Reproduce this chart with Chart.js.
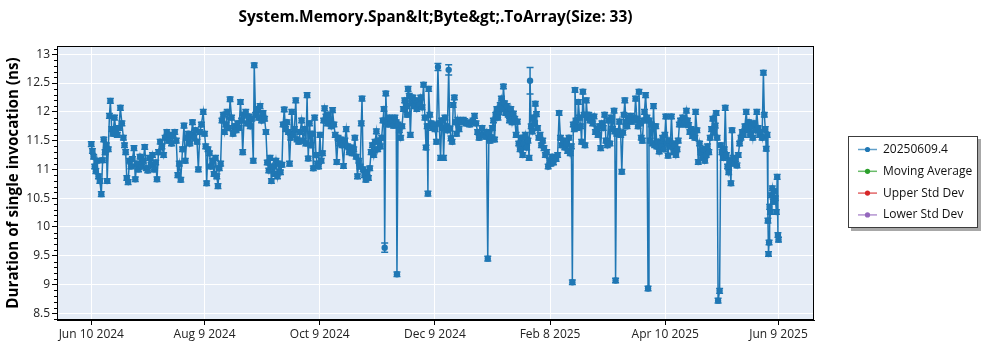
<!DOCTYPE html>
<html>
<head>
<meta charset="utf-8">
<script src="https://cdn.jsdelivr.net/npm/chart.js@4.4.1/dist/chart.umd.min.js"></script>
<style>
  html, body { margin: 0; padding: 0; background: #ffffff; }
  #wrap { width: 1000px; height: 350px; }
</style>
</head>
<body>
<div id="wrap"><canvas id="chart" width="1000" height="350"></canvas></div>
<script>
// ---- chart data ----------------------------------------------------------
const chartTitle = 'System.Memory.Span&lt;Byte&gt;.ToArray(Size: 33)';
const yAxisTitle = 'Duration of single invocation (ns)';

// x axis: days counted from Jun 10 2024
const tickDays = [0, 60, 121, 182, 243, 304, 364];
const tickLabels = ['Jun 10 2024', 'Aug 9 2024', 'Oct 9 2024', 'Dec 9 2024', 'Feb 8 2025', 'Apr 10 2025', 'Jun 9 2025'];
const yTicks = [8.5, 9, 9.5, 10, 10.5, 11, 11.5, 12, 12.5, 13];

const seriesNames = ['20250609.4', 'Moving Average', 'Upper Std Dev', 'Lower Std Dev'];
const seriesColors = ['#1f77b4', '#2ca02c', '#d62728', '#9467bd'];

const dayOffsets = [
  0, 0.6, 1.2, 1.8, 2.4, 3.0, 3.8, 4.5, 5.3, 6.0,
  6.6, 7.3, 8.0, 8.4, 9.0, 9.6, 10.1, 10.8, 11.5, 12.3,
  13.0, 13.8, 14.6, 15.4, 16.2, 17.0, 17.6, 18.2, 18.8, 19.5,
  20.2, 21.0, 21.8, 22.6, 23.3, 24.1, 25.0, 25.8, 26.6, 27.5,
  28.3, 29.1, 29.9, 30.8, 31.6, 32.4, 33.3, 34.1, 34.8, 35.6,
  36.5, 37.4, 38.3, 39.1, 40.0, 40.8, 41.6, 42.5, 43.3, 44.2,
  45.0, 45.8, 46.6, 47.4, 48.3, 49.1, 49.8, 50.6, 51.4, 52.2,
  53.0, 53.6, 54.4, 55.2, 56.0, 56.7, 57.5, 58.3, 59.3, 60.0,
  60.6, 61.1, 61.8, 62.6, 63.4, 64.2, 65.0, 65.8, 66.5, 67.1,
  67.8, 68.5, 69.2, 69.9, 70.6, 71.3, 72.0, 72.8, 73.5, 74.3,
  75.1, 75.9, 76.7, 77.5, 78.3, 79.0, 79.6, 80.2, 81.0, 81.8,
  82.6, 83.4, 84.2, 85.0, 85.8, 86.3, 87.0, 87.8, 88.6, 89.4,
  90.2, 91.0, 91.8, 92.5, 93.2, 94.0, 94.7, 95.4, 96.2, 97.0,
  97.8, 98.6, 99.4, 100.2, 101.0, 101.6, 102.2, 102.9, 103.6, 104.4,
  105.0, 105.6, 106.2, 106.9, 107.6, 108.3, 109.0, 109.8, 110.6, 111.4,
  112.2, 113.0, 113.7, 114.3, 114.9, 115.6, 116.3, 117.0, 117.6, 118.3,
  119.0, 119.7, 120.4, 121.1, 121.8, 122.5, 123.1, 123.6, 124.3, 125.0,
  125.7, 126.4, 127.1, 127.8, 128.5, 129.2, 130.0, 130.7, 131.4, 132.1,
  132.8, 133.6, 134.3, 135.0, 135.8, 136.6, 137.4, 138.2, 139.0, 139.6,
  140.3, 141.0, 141.7, 142.4, 143.0, 143.4, 144.0, 144.7, 145.4, 146.1,
  146.8, 147.5, 148.2, 148.9, 149.6, 150.3, 151.0, 151.7, 152.4, 153.1,
  153.8, 154.5, 155.0, 155.4, 156.0, 156.6, 157.3, 158.0, 158.7, 159.4,
  160.1, 160.8, 161.5, 161.9, 162.5, 163.2, 163.9, 164.6, 165.3, 166.0,
  166.7, 167.3, 167.8, 168.4, 169.0, 169.6, 170.3, 171.0, 171.7, 172.4,
  173.1, 173.8, 174.5, 175.2, 176.0, 176.7, 177.3, 177.9, 178.3, 178.7,
  179.3, 180.0, 180.7, 181.4, 182.1, 182.8, 183.6, 184.3, 185.0, 185.6,
  186.2, 186.6, 187.3, 188.0, 188.6, 189.3, 189.9, 190.5, 191.1, 191.7,
  192.3, 192.9, 193.5, 194.1, 194.8, 195.5, 196.2, 197.0, 197.8, 198.6,
  199.5, 200.4, 201.3, 202.2, 203.0, 203.8, 204.6, 205.4, 206.2, 207.0,
  207.8, 208.6, 209.3, 210.0, 210.6, 211.2, 211.8, 212.4, 213.0, 213.6,
  214.2, 214.8, 215.4, 216.0, 216.6, 217.2, 217.8, 218.3, 218.9, 219.5,
  220.1, 220.8, 221.5, 222.2, 222.9, 223.6, 224.3, 225.0, 225.7, 226.4,
  227.1, 227.8, 228.5, 229.2, 229.9, 230.6, 231.3, 231.9, 232.4, 233.0,
  233.6, 234.2, 234.8, 235.2, 235.8, 236.4, 237.0, 237.7, 238.4, 239.1,
  239.8, 240.5, 241.2, 242.0, 242.7, 243.4, 244.1, 244.8, 245.5, 246.2,
  247.0, 247.8, 248.5, 249.2, 250.0, 250.8, 251.6, 252.3, 253.0, 253.7,
  254.3, 254.8, 255.3, 255.8, 256.2, 256.8, 257.4, 258.0, 258.6, 259.2,
  259.7, 260.4, 261.0, 261.5, 262.2, 262.8, 263.5, 264.2, 264.9, 265.6,
  266.3, 267.0, 267.7, 268.4, 269.1, 269.8, 270.5, 271.2, 271.9, 272.6,
  273.3, 274.0, 274.7, 275.4, 276.1, 276.9, 277.3, 277.7, 278.3, 279.0,
  279.7, 280.4, 281.0, 281.6, 282.1, 282.6, 283.2, 283.8, 284.4, 285.0,
  285.6, 286.3, 287.0, 287.7, 288.3, 289.0, 289.6, 290.1, 290.7, 291.3,
  291.9, 292.5, 293.0, 293.6, 294.3, 294.9, 295.4, 296.0, 296.6, 297.2,
  297.8, 298.4, 299.0, 299.6, 300.2, 300.8, 301.4, 302.0, 302.6, 303.2,
  303.8, 304.3, 304.9, 305.5, 306.1, 306.7, 307.3, 307.9, 308.5, 309.1,
  309.7, 310.3, 310.9, 311.5, 312.1, 312.7, 313.3, 313.9, 314.5, 315.2,
  315.8, 316.4, 317.0, 317.7, 318.4, 319.1, 319.7, 320.1, 320.8, 321.5,
  322.2, 322.9, 323.6, 324.3, 325.0, 325.7, 326.4, 327.1, 327.8, 328.5,
  329.2, 329.9, 330.5, 331.0, 331.5, 332.0, 332.8, 333.4, 334.0, 334.7,
  335.3, 335.8, 336.4, 337.0, 337.6, 338.2, 338.8, 339.4, 340.0, 340.6,
  341.3, 342.0, 342.7, 343.4, 344.1, 344.8, 345.5, 346.2, 346.9, 347.6,
  348.3, 349.0, 349.7, 350.4, 351.1, 351.8, 352.5, 353.2, 353.9, 354.6,
  355.3, 356.0, 356.5, 357.0, 357.5, 358.0, 358.4, 358.7, 359.0, 359.3,
  359.7, 360.2, 360.7, 361.2, 361.7, 362.3, 362.9, 363.3, 363.7, 364.0
];

// mean duration per run (ns)
const durations = [
  11.44, 11.32, 11.22, 11.05, 10.97, 11.15, 10.88, 10.80, 10.57, 11.16,
  11.52, 11.30, 11.42, 10.80, 11.35, 11.93, 12.19, 11.70, 11.62, 11.90,
  11.68, 11.60, 11.72, 12.07, 11.80, 11.55, 11.42, 11.30, 10.85, 10.78,
  11.15, 11.05, 11.18, 11.37, 10.83, 11.10, 11.00, 11.22, 11.05, 11.15,
  11.39, 11.02, 10.98, 11.20, 11.08, 11.25, 11.00, 11.12, 10.83, 11.30,
  11.48, 11.40, 11.25, 11.55, 11.65, 11.50, 11.60, 11.45, 11.58, 11.65,
  11.50, 10.90, 11.10, 10.82, 11.35, 11.76, 11.15, 11.55, 11.62, 11.45,
  11.60, 11.82, 11.55, 11.68, 11.48, 11.00, 11.65, 11.78, 12.00, 11.62,
  11.40, 10.76, 11.35, 11.28, 11.05, 11.15, 10.92, 11.20, 10.88, 10.71,
  11.02, 11.10, 11.85, 11.95, 11.65, 11.78, 12.00, 11.72, 12.22, 11.90,
  11.62, 11.75, 11.68, 11.80, 11.72, 12.17, 11.85, 11.30, 11.95, 12.00,
  11.80, 11.92, 11.75, 11.88, 11.15, 12.81, 11.95, 12.05, 11.90, 12.10,
  11.85, 11.98, 11.88, 11.65, 11.12, 10.98, 11.20, 10.80, 11.05, 10.92,
  11.15, 10.88, 11.10, 10.95, 11.08, 11.78, 12.04, 11.70, 11.82, 11.65,
  11.10, 11.55, 12.00, 11.60, 11.70, 12.20, 11.52, 11.48, 11.65, 11.85,
  11.50, 11.70, 11.45, 12.29, 11.19, 11.80, 11.42, 11.62, 11.02, 11.90,
  11.25, 11.10, 11.05, 11.60, 11.15, 11.28, 11.85, 12.06, 11.92, 11.80,
  11.95, 11.85, 11.75, 12.03, 11.78, 11.60, 11.13, 11.55, 11.45, 11.52,
  11.42, 11.06, 11.50, 11.70, 11.40, 11.30, 11.38, 11.28, 11.35, 11.55,
  11.22, 10.88, 11.15, 11.05, 11.80, 12.23, 11.00, 10.90, 10.82, 10.95,
  10.85, 11.02, 11.30, 11.42, 11.25, 11.48, 11.66, 11.35, 11.50, 11.40,
  11.55, 11.85, 12.05, 9.64, 12.32, 11.82, 11.78, 11.90, 11.80, 11.85,
  11.76, 11.90, 11.82, 9.18, 11.78, 11.68, 11.55, 11.75, 12.05, 12.20,
  12.10, 11.95, 12.40, 12.28, 11.60, 12.15, 12.25, 12.10, 12.20, 12.05,
  12.18, 12.12, 12.25, 12.08, 12.47, 11.90, 11.38, 11.75, 10.58, 12.40,
  11.95, 11.80, 11.72, 11.78, 11.70, 11.48, 12.78, 11.80, 11.20, 11.85,
  11.72, 11.20, 11.90, 11.75, 11.68, 12.73, 11.71, 11.54, 11.48, 12.12,
  12.25, 11.82, 11.62, 11.86, 11.70, 11.84, 11.82, 11.86, 11.84, 11.80,
  11.80, 11.78, 11.82, 11.85, 11.93, 11.80, 11.65, 11.55, 11.60, 11.72,
  11.60, 11.57, 11.65, 9.45, 11.62, 11.50, 11.56, 11.72, 11.85, 11.52,
  11.95, 12.05, 11.90, 12.00, 12.12, 12.23, 12.05, 12.44, 12.15, 11.98,
  12.10, 11.95, 11.85, 12.05, 11.82, 11.97, 11.88, 11.60, 11.83, 11.45,
  11.35, 11.55, 11.25, 11.45, 11.60, 11.38, 11.50, 11.20, 12.54, 11.75,
  11.66, 11.90, 11.80, 12.14, 11.96, 11.72, 11.55, 11.60, 11.42, 11.50,
  11.37, 11.25, 11.30, 11.05, 11.15, 11.10, 11.22, 11.12, 11.20, 11.18,
  11.25, 11.98, 11.55, 11.42, 11.50, 11.38, 11.45, 11.32, 11.55, 11.28,
  11.40, 9.04, 11.78, 11.70, 12.38, 11.85, 11.72, 12.17, 11.90, 11.75,
  11.48, 12.35, 11.95, 11.42, 12.20, 11.90, 11.95, 11.85, 11.88, 11.80,
  11.92, 11.65, 11.70, 11.60, 11.75, 11.37, 11.80, 11.72, 11.95, 11.50,
  11.42, 11.85, 11.45, 11.90, 11.70, 12.02, 11.66, 9.07, 11.62, 11.66,
  11.83, 11.60, 10.96, 11.64, 11.95, 12.20, 11.82, 11.75, 11.90, 11.85,
  11.93, 11.83, 11.90, 11.86, 12.23, 11.88, 11.75, 12.35, 11.80, 11.55,
  11.50, 11.85, 12.00, 12.29, 11.90, 8.93, 11.85, 11.50, 11.78, 11.45,
  12.10, 11.42, 11.75, 11.40, 11.48, 11.31, 11.45, 11.40, 11.55, 11.35,
  11.60, 11.92, 11.45, 11.24, 11.50, 11.40, 11.92, 11.45, 11.30, 11.42,
  11.25, 11.35, 11.50, 11.78, 11.85, 11.80, 11.90, 11.78, 11.82, 12.02,
  11.85, 11.77, 11.65, 11.70, 11.58, 11.62, 11.55, 12.00, 11.68, 11.13,
  11.45, 11.30, 11.20, 11.35, 11.15, 11.25, 11.40, 11.30, 11.55, 11.70,
  11.88, 11.65, 11.76, 11.98, 11.55, 8.72, 8.89, 11.42, 11.30, 11.20,
  11.35, 12.07, 11.25, 11.05, 10.95, 11.15, 10.76, 11.68, 11.20, 11.10,
  11.18, 11.07, 11.25, 11.45, 11.55, 11.65, 11.60, 11.75, 12.00, 11.70,
  11.82, 11.60, 11.75, 11.55, 11.80, 11.68, 12.00, 11.72, 11.60, 11.65,
  11.55, 12.68, 11.95, 11.70, 11.36, 11.60, 10.11, 9.53, 9.73, 10.35,
  10.26, 10.55, 10.67, 10.44, 10.62, 10.50, 10.26, 10.87, 9.86, 9.78
];

// half-height of the error bar (ns); runs not listed use the default
const errorBarDefault = 0.04;
const wideErrorBars = [[155.4, 0.08], [189.3, 0.09], [232.4, 0.23], [183.6, 0.06]];

// ---- drawing -------------------------------------------------------------
const FONT = "'Segoe UI', 'Open Sans', 'Noto Sans', sans-serif";
const AXIS_LEFT = 57, AXIS_RIGHT = 814, AXIS_TOP = 46, AXIS_BOTTOM = 320;

function errorFor(day) {
  const hit = wideErrorBars.find(e => e[0] === day);
  return hit ? hit[1] : errorBarDefault;
}

const plotBackground = {
  id: 'plotBackground',
  beforeDraw(chart) {
    const { ctx, chartArea: a } = chart;
    ctx.save();
    ctx.fillStyle = '#e5ecf6';
    ctx.fillRect(a.left, a.top, a.right - a.left, a.bottom - a.top);
    ctx.restore();
  }
};

const errorBars = {
  id: 'errorBars',
  beforeDatasetsDraw(chart) {
    const { ctx } = chart;
    const yScale = chart.scales.y;
    const meta = chart.getDatasetMeta(0);
    ctx.save();
    ctx.strokeStyle = seriesColors[0];
    ctx.lineWidth = 1.5;
    meta.data.forEach((pt, i) => {
      const v = durations[i];
      const e = errorFor(dayOffsets[i]);
      const top = yScale.getPixelForValue(v + e);
      const bot = yScale.getPixelForValue(v - e);
      ctx.beginPath();
      ctx.moveTo(pt.x, top); ctx.lineTo(pt.x, bot);
      ctx.moveTo(pt.x - 3.5, top); ctx.lineTo(pt.x + 3.5, top);
      ctx.moveTo(pt.x - 3.5, bot); ctx.lineTo(pt.x + 3.5, bot);
      ctx.stroke();
    });
    ctx.restore();
  }
};

const frameAndLabels = {
  id: 'frameAndLabels',
  afterDraw(chart) {
    const { ctx, chartArea: a } = chart;
    const yScale = chart.scales.y;
    ctx.save();

    // frame around the plot
    ctx.strokeStyle = '#000';
    ctx.lineWidth = 1;
    ctx.strokeRect(a.left + 0.5, a.top + 0.5, a.right - a.left - 1, a.bottom - a.top - 1);

    // minor ticks on the value axis
    ctx.beginPath();
    for (let k = 84; k <= 131; k++) {
      const v = k / 10;
      if (k % 5 === 0) continue;
      const y = Math.round(yScale.getPixelForValue(v)) + 0.5;
      ctx.moveTo(a.left - 3, y); ctx.lineTo(a.left, y);
    }
    ctx.stroke();

    // title
    ctx.fillStyle = '#000';
    ctx.font = `bold 15.5px ${FONT}`;
    ctx.textAlign = 'center';
    ctx.textBaseline = 'middle';
    ctx.fillText(chartTitle, (a.left + a.right) / 2, 18);

    // value axis title
    ctx.save();
    ctx.translate(14, (a.top + a.bottom) / 2);
    ctx.rotate(-Math.PI / 2);
    ctx.font = `bold 15.2px ${FONT}`;
    ctx.fillText(yAxisTitle, 0, 0);
    ctx.restore();

    // legend box
    const bx = 848, by = 136, bw = 130, bh = 92;
    ctx.fillStyle = '#a8a8a8';
    ctx.fillRect(bx + 3, by + 3, bw, bh);
    ctx.fillStyle = '#ffffff';
    ctx.fillRect(bx, by, bw, bh);
    ctx.strokeStyle = '#3c3c3c';
    ctx.strokeRect(bx + 0.5, by + 0.5, bw - 1, bh - 1);

    ctx.font = `12px ${FONT}`;
    ctx.textAlign = 'left';
    chart.data.datasets.forEach((ds, i) => {
      const cy = 149.5 + i * 21.8;
      ctx.globalAlpha = 0.7;
      ctx.strokeStyle = ds.borderColor;
      ctx.lineWidth = 1.5;
      ctx.beginPath();
      ctx.moveTo(858, cy); ctx.lineTo(877, cy);
      ctx.stroke();
      ctx.globalAlpha = 1;
      ctx.fillStyle = ds.borderColor;
      ctx.beginPath();
      ctx.arc(867.5, cy, 2.6, 0, Math.PI * 2);
      ctx.fill();
      ctx.fillStyle = '#111';
      ctx.fillText(ds.label, 883, cy);
    });
    ctx.restore();
  }
};

const mainPoints = dayOffsets.map((d, i) => ({ x: d, y: durations[i] }));

new Chart(document.getElementById('chart'), {
  type: 'line',
  data: {
    datasets: seriesNames.map((name, i) => ({
      label: name,
      data: i === 0 ? mainPoints : [],
      borderColor: seriesColors[i],
      backgroundColor: seriesColors[i],
      borderWidth: 1.5,
      pointRadius: 3.2,
      pointBorderWidth: 0,
      pointBackgroundColor: seriesColors[i],
      tension: 0,
      fill: false
    }))
  },
  options: {
    responsive: false,
    animation: false,
    events: [],
    layout: { padding: { left: 0, top: AXIS_TOP, right: 1000 - AXIS_RIGHT, bottom: 0 } },
    plugins: { legend: { display: false }, title: { display: false }, tooltip: { enabled: false } },
    scales: {
      x: {
        type: 'linear',
        min: -18.17,
        max: 382.8,
        afterBuildTicks: s => { s.ticks = tickDays.map(v => ({ value: v })); },
        afterFit: s => { s.height = 350 - AXIS_BOTTOM; },
        ticks: {
          autoSkip: false, maxRotation: 0, padding: 2, color: '#222',
          font: { family: FONT, size: 12 },
          callback: v => tickLabels[tickDays.indexOf(v)]
        },
        grid: { color: '#ffffff', lineWidth: 1, tickLength: 5, tickColor: '#000', drawTicks: true },
        border: { display: true, color: '#000', width: 1 }
      },
      y: {
        min: 8.384,
        max: 13.144,
        afterBuildTicks: s => { s.ticks = yTicks.map(v => ({ value: v })); },
        afterFit: s => { s.width = AXIS_LEFT; },
        ticks: {
          padding: 2, color: '#222',
          font: { family: FONT, size: 12 },
          callback: v => String(+v.toFixed(1))
        },
        grid: { color: '#ffffff', lineWidth: 1, tickLength: 5, tickColor: '#000', drawTicks: true },
        border: { display: true, color: '#000', width: 1 }
      }
    }
  },
  plugins: [plotBackground, errorBars, frameAndLabels]
});
</script>
</body>
</html>
